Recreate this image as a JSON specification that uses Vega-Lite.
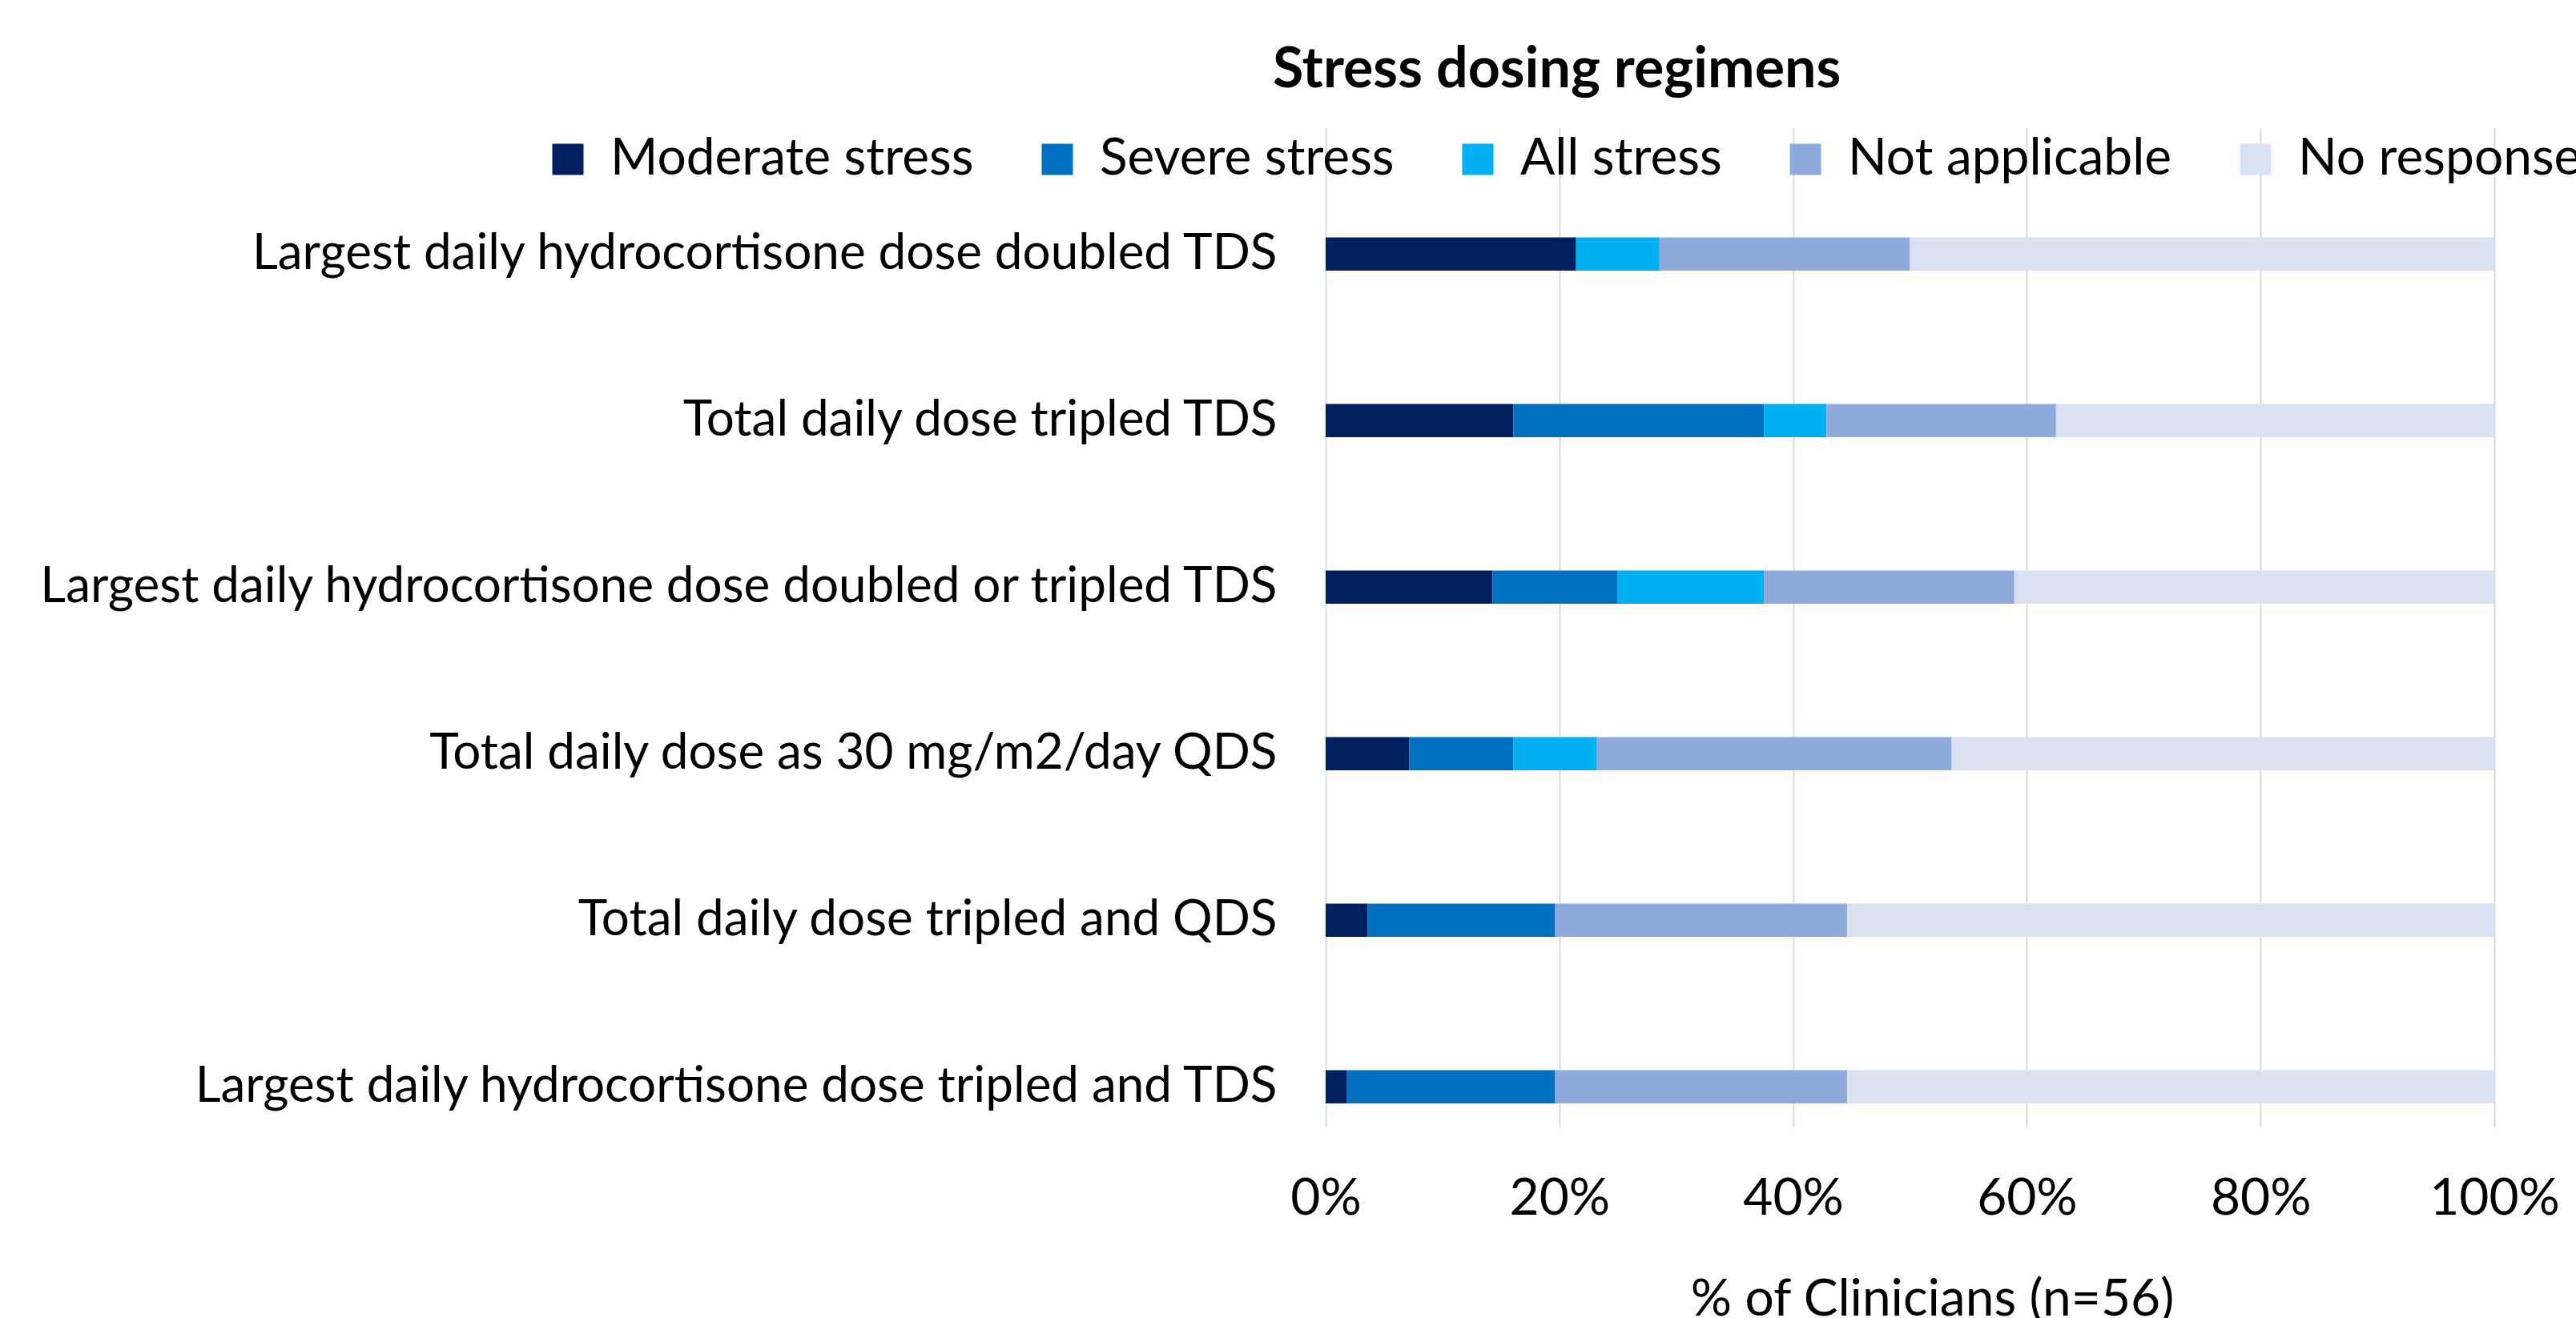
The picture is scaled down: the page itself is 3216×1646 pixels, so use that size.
{
  "$schema": "https://vega.github.io/schema/vega-lite/v6.json",
  "autosize": {"type": "none"},
  "width": 1459,
  "height": 1248,
  "padding": {"left": 1655, "top": 160, "right": 102, "bottom": 238},
  "background": "white",
  "config": {
    "font": "Lato",
    "view": {"stroke": null},
    "axis": {"labelColor": "black", "titleColor": "black", "labelFont": "Lato", "titleFont": "Lato"},
    "legend": {"labelFont": "Lato"}
  },
  "title": {
    "text": "Stress dosing regimens",
    "anchor": "start",
    "frame": "group",
    "dx": -66,
    "fontSize": 70,
    "fontWeight": "bold",
    "font": "Lato",
    "color": "black",
    "offset": 36
  },
  "data": {
    "values": [
      {"regimen": "Largest daily hydrocortisone dose doubled TDS", "response": "Moderate stress", "n": 12},
      {"regimen": "Largest daily hydrocortisone dose doubled TDS", "response": "All stress", "n": 4},
      {"regimen": "Largest daily hydrocortisone dose doubled TDS", "response": "Not applicable", "n": 12},
      {"regimen": "Largest daily hydrocortisone dose doubled TDS", "response": "No response", "n": 28},
      {"regimen": "Total daily dose tripled TDS", "response": "Moderate stress", "n": 9},
      {"regimen": "Total daily dose tripled TDS", "response": "Severe stress", "n": 12},
      {"regimen": "Total daily dose tripled TDS", "response": "All stress", "n": 3},
      {"regimen": "Total daily dose tripled TDS", "response": "Not applicable", "n": 11},
      {"regimen": "Total daily dose tripled TDS", "response": "No response", "n": 21},
      {"regimen": "Largest daily hydrocortisone dose doubled or tripled TDS", "response": "Moderate stress", "n": 8},
      {"regimen": "Largest daily hydrocortisone dose doubled or tripled TDS", "response": "Severe stress", "n": 6},
      {"regimen": "Largest daily hydrocortisone dose doubled or tripled TDS", "response": "All stress", "n": 7},
      {"regimen": "Largest daily hydrocortisone dose doubled or tripled TDS", "response": "Not applicable", "n": 12},
      {"regimen": "Largest daily hydrocortisone dose doubled or tripled TDS", "response": "No response", "n": 23},
      {"regimen": "Total daily dose as 30 mg/m2/day QDS", "response": "Moderate stress", "n": 4},
      {"regimen": "Total daily dose as 30 mg/m2/day QDS", "response": "Severe stress", "n": 5},
      {"regimen": "Total daily dose as 30 mg/m2/day QDS", "response": "All stress", "n": 4},
      {"regimen": "Total daily dose as 30 mg/m2/day QDS", "response": "Not applicable", "n": 17},
      {"regimen": "Total daily dose as 30 mg/m2/day QDS", "response": "No response", "n": 26},
      {"regimen": "Total daily dose tripled and QDS", "response": "Moderate stress", "n": 2},
      {"regimen": "Total daily dose tripled and QDS", "response": "Severe stress", "n": 9},
      {"regimen": "Total daily dose tripled and QDS", "response": "Not applicable", "n": 14},
      {"regimen": "Total daily dose tripled and QDS", "response": "No response", "n": 31},
      {"regimen": "Largest daily hydrocortisone dose tripled and TDS", "response": "Moderate stress", "n": 1},
      {"regimen": "Largest daily hydrocortisone dose tripled and TDS", "response": "Severe stress", "n": 10},
      {"regimen": "Largest daily hydrocortisone dose tripled and TDS", "response": "Not applicable", "n": 14},
      {"regimen": "Largest daily hydrocortisone dose tripled and TDS", "response": "No response", "n": 31}
    ]
  },
  "transform": [
    {"calculate": "indexof(['Moderate stress','Severe stress','All stress','Not applicable','No response'], datum.response)", "as": "stackOrder"}
  ],
  "mark": {"type": "bar"},
  "encoding": {
    "y": {
      "field": "regimen",
      "type": "nominal",
      "sort": [
        "Largest daily hydrocortisone dose doubled TDS",
        "Total daily dose tripled TDS",
        "Largest daily hydrocortisone dose doubled or tripled TDS",
        "Total daily dose as 30 mg/m2/day QDS",
        "Total daily dose tripled and QDS",
        "Largest daily hydrocortisone dose tripled and TDS"
      ],
      "scale": {"paddingInner": 0.8, "paddingOuter": 0.4, "align": 0.82},
      "axis": {
        "title": null,
        "domain": false,
        "ticks": false,
        "grid": false,
        "labelFontSize": 62,
        "labelPadding": 61,
        "labelLimit": 0
      }
    },
    "x": {
      "field": "n",
      "type": "quantitative",
      "stack": "normalize",
      "scale": {"domain": [0, 1]},
      "axis": {
        "values": [0, 0.2, 0.4, 0.6, 0.8, 1],
        "format": ".0%",
        "grid": true,
        "gridColor": "#D9D9D9",
        "gridWidth": 2,
        "domain": false,
        "ticks": false,
        "labelFlush": false,
        "labelFontSize": 64,
        "labelPadding": 57,
        "title": "% of Clinicians (n=56)",
        "titleFontSize": 64,
        "titleFontWeight": "normal",
        "titlePadding": 62,
        "titleX": 757
      }
    },
    "order": {"field": "stackOrder", "type": "quantitative", "sort": "ascending"},
    "color": {
      "field": "response",
      "type": "nominal",
      "sort": ["Moderate stress", "Severe stress", "All stress", "Not applicable", "No response"],
      "scale": {
        "domain": ["Moderate stress", "Severe stress", "All stress", "Not applicable", "No response"],
        "range": ["#002060", "#0070C0", "#00B0F0", "#8EA9DB", "#D9E1F2"]
      },
      "legend": {
        "title": null,
        "orient": "none",
        "direction": "horizontal",
        "legendX": -978,
        "legendY": 7,
        "symbolType": "square",
        "symbolSize": 1521,
        "symbolStrokeWidth": 0,
        "symbolOpacity": 1,
        "labelFontSize": 64,
        "labelOffset": 21,
        "labelColor": "black",
        "columnPadding": 72,
        "labelLimit": 0
      }
    }
  }
}
